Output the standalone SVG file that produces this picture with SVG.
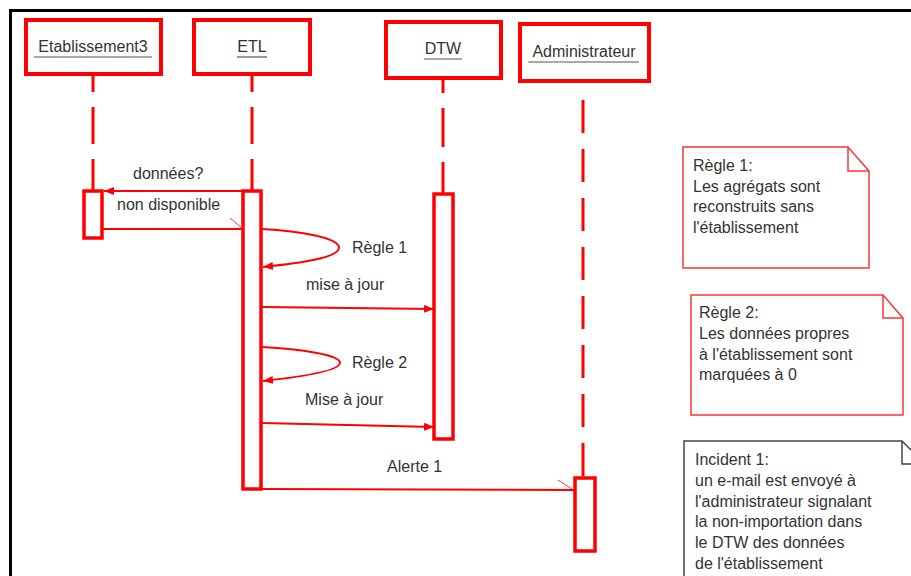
<svg xmlns="http://www.w3.org/2000/svg" width="911" height="576" viewBox="0 0 911 576">
  <defs>
    <style>
      .frame { stroke: #000; stroke-width: 3; fill: none; }
      .obj { fill: #fff; stroke: #ff0000; stroke-width: 4; }
      .act { fill: #fff; stroke: #ff0000; stroke-width: 3.5; }
      .life { stroke: #ff0000; stroke-width: 3; fill: none; }
      .msg { stroke: #ff0000; stroke-width: 2; fill: none; }
      .half { stroke: #ff3030; stroke-width: 1; fill: none; }
      .note { fill: #fff; stroke: #ff3333; stroke-width: 1.5; }
      .note-dark { fill: #fff; stroke: #444; stroke-width: 1.5; }
      .fold { fill: none; stroke: #ff3333; stroke-width: 1.5; }
      .fold-dark { fill: none; stroke: #444; stroke-width: 1.5; }
      text { font-family: "Liberation Sans", Arial, sans-serif; font-size: 16px; fill: #333; }
      .title { text-anchor: middle; }
      .ul { stroke: #555; stroke-width: 1.2; }
    </style>
    <marker id="arrow" viewBox="0 0 10 8" refX="10" refY="4" markerWidth="10" markerHeight="8" markerUnits="userSpaceOnUse" orient="auto">
      <path d="M0,0 L10,4 L0,8 Z" fill="#ff0000"/>
    </marker>
  </defs>

  <rect width="911" height="576" fill="#fff"/>

  <!-- outer frame (top and left edges) -->
  <path class="frame" d="M10.5,576 V10.5 H911"/>

  <!-- lifelines -->
  <g id="lifelines">
    <line class="life" x1="93" y1="74" x2="93" y2="191" stroke-dasharray="37 15" stroke-dashoffset="19"/>
    <line class="life" x1="252" y1="74" x2="252" y2="191" stroke-dasharray="37 15" stroke-dashoffset="19"/>
    <line class="life" x1="443" y1="78" x2="443" y2="194" stroke-dasharray="39 15" stroke-dashoffset="24"/>
    <line class="life" x1="583" y1="100" x2="583" y2="478" stroke-dasharray="33 16"/>
  </g>

  <!-- objects -->
  <g id="etablissement3">
    <rect class="obj" x="26" y="20" width="135" height="54"/>
    <text class="title" x="93" y="52">Etablissement3</text>
    <line class="ul" x1="34" y1="57" x2="152" y2="57"/>
    <rect class="act" x="84" y="191" width="18" height="47"/>
  </g>

  <g id="etl">
    <rect class="obj" x="194" y="20" width="116" height="54"/>
    <text class="title" x="252" y="52">ETL</text>
    <line class="ul" x1="237" y1="57" x2="267" y2="57"/>
    <rect class="act" x="243" y="191" width="18" height="298"/>
  </g>

  <g id="dtw">
    <rect class="obj" x="386" y="22" width="115" height="56"/>
    <text class="title" x="443" y="54">DTW</text>
    <line class="ul" x1="424" y1="59" x2="462" y2="59"/>
    <rect class="act" x="434" y="194" width="19" height="245"/>
  </g>

  <g id="administrateur">
    <rect class="obj" x="520" y="24" width="129" height="57"/>
    <text class="title" x="584" y="57">Administrateur</text>
    <line class="ul" x1="528" y1="62" x2="639" y2="62"/>
    <rect class="act" x="575" y="478" width="20" height="73"/>
  </g>

  <!-- messages -->
  <g id="connectors">
    <line class="msg" x1="243" y1="191" x2="104" y2="191" marker-end="url(#arrow)"/>
    <line class="msg" x1="102" y1="229" x2="243" y2="229"/>
    <line class="half" x1="230" y1="218" x2="242" y2="228"/>
    <path class="msg" d="M262,229 C300,231 340,238 339,248 C338,258 300,263 263,267" marker-end="url(#arrow)"/>
    <line class="msg" x1="262" y1="307" x2="434" y2="309" marker-end="url(#arrow)"/>
    <path class="msg" d="M262,347 C300,349 341,355 340,363 C339,371 300,377 263,381" marker-end="url(#arrow)"/>
    <line class="msg" x1="262" y1="423" x2="434" y2="427" marker-end="url(#arrow)"/>
    <line class="msg" x1="262" y1="489" x2="574" y2="490"/>
    <line class="half" x1="558" y1="480" x2="572" y2="489"/>
  </g>

  <!-- message labels -->
  <g id="labels">
    <text x="133" y="179">données?</text>
    <text x="117" y="210">non disponible</text>
    <text x="352" y="253">Règle 1</text>
    <text x="306" y="290">mise à jour</text>
    <text x="352" y="368">Règle 2</text>
    <text x="305" y="405">Mise à jour</text>
    <text x="387" y="472">Alerte 1</text>
  </g>

  <!-- notes -->
  <g id="note-regle1">
    <path class="note" d="M683,147 H848 L869,171 V268 H683 Z"/>
    <path class="fold" d="M848,147 V171 H869"/>
    <text x="693" y="171">Règle 1:</text>
    <text x="693" y="191.5">Les agrégats sont</text>
    <text x="693" y="212">reconstruits sans</text>
    <text x="693" y="232.5">l'établissement</text>
  </g>

  <g id="note-regle2">
    <path class="note" d="M691,295 H883 L903,318 V415 H691 Z"/>
    <path class="fold" d="M883,295 V318 H903"/>
    <text x="699" y="318">Règle 2:</text>
    <text x="699" y="339">Les données propres</text>
    <text x="699" y="359.5">à l'établissement sont</text>
    <text x="699" y="380">marquées à 0</text>
  </g>

  <g id="note-incident1">
    <path class="note-dark" d="M684,580 V441 H902 L925,464 V580"/>
    <path class="fold-dark" d="M902,441 V464 H925"/>
    <text x="695" y="465">Incident 1:</text>
    <text x="695" y="486">un e-mail est envoyé à</text>
    <text x="695" y="507">l'administrateur signalant</text>
    <text x="695" y="527">la non-importation dans</text>
    <text x="695" y="548">le DTW des données</text>
    <text x="695" y="569">de l'établissement</text>
  </g>
</svg>
